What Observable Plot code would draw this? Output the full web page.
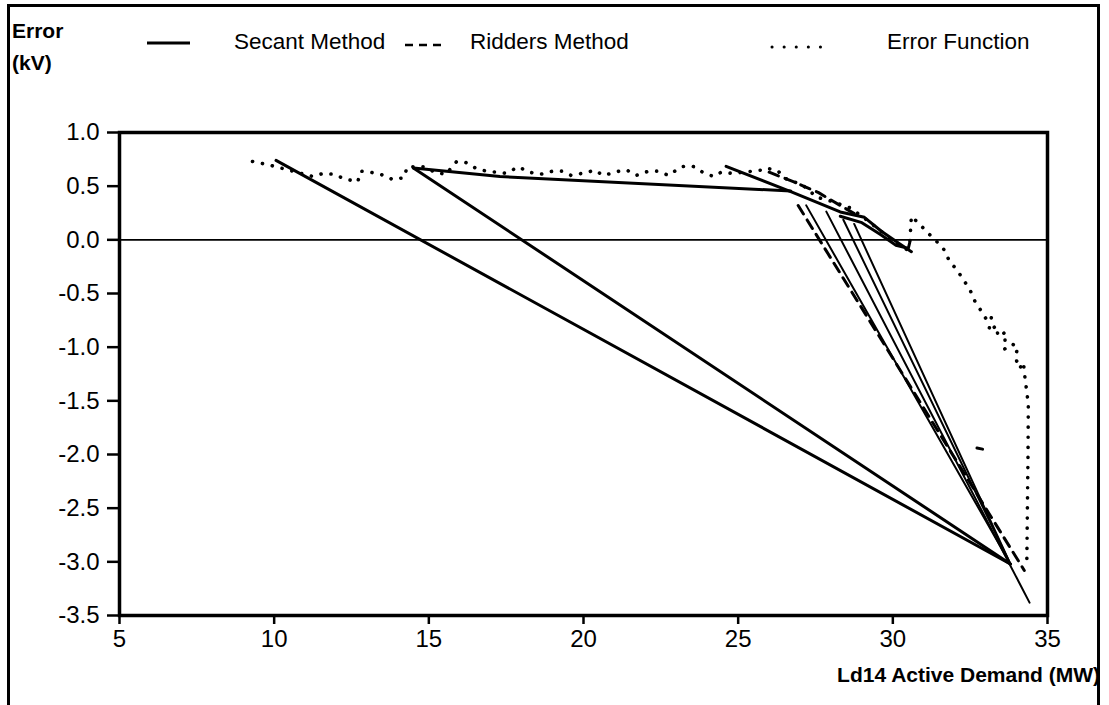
<!DOCTYPE html>
<html>
<head>
<meta charset="utf-8">
<script src="https://cdn.jsdelivr.net/npm/d3@7"></script>
<script src="https://cdn.jsdelivr.net/npm/@observablehq/plot@0.6"></script>
<style>
  html, body { margin: 0; padding: 0; background: #fff; }
  #wrap { position: relative; width: 1109px; height: 705px; overflow: hidden; font-family: "Liberation Sans", Arial, sans-serif; color: #000; }
  #border { position: absolute; left: 7px; top: 4px; width: 1093px; height: 720px; border: 3px solid #000; border-bottom: none; box-sizing: border-box; }
  .t { position: absolute; font-size: 22.5px; white-space: nowrap; line-height: 1; }
  .b { font-weight: bold; font-size: 21px; }
  #plot { position: absolute; left: 0; top: 0; }
</style>
</head>
<body>
<div id="wrap">
  <div id="border"></div>
  <div id="plot"></div>
  <div class="t b" style="left:12px; top:20px;">Error</div>
  <div class="t b" style="left:12px; top:52px;">(kV)</div>
  <svg style="position:absolute; left:0; top:0;" width="1109" height="120">
    <line x1="147" x2="190" y1="43" y2="43" stroke="#000" stroke-width="3"/>
    <line x1="405" x2="447" y1="45" y2="45" stroke="#000" stroke-width="2.5" stroke-dasharray="8 6"/>
    <line x1="772" x2="822" y1="47" y2="47" stroke="#000" stroke-width="3" stroke-linecap="round" stroke-dasharray="0.1 12"/>
  </svg>
  <div class="t" style="left:234px; top:31px;">Secant Method</div>
  <div class="t" style="left:470px; top:31px;">Ridders Method</div>
  <div class="t" style="left:887px; top:31px;">Error Function</div>
  <div class="t b" style="right:9px; top:664px;">Ld14 Active Demand (MW)</div>
</div>
<script>
// ---- data ----
const xTicks = [5, 10, 15, 20, 25, 30, 35];
const yTicks = [1.0, 0.5, 0.0, -0.5, -1.0, -1.5, -2.0, -2.5, -3.0, -3.5];

// Error function (dotted)
const errorFunction = [
  [9.3,0.73],[9.8,0.70],[10.2,0.67],[10.6,0.64],[11.25,0.59],[11.6,0.62],[11.95,0.61],[12.25,0.57],
  [12.7,0.54],[12.8,0.64],[13.1,0.63],[13.45,0.61],[13.85,0.56],[14.2,0.58],[14.3,0.68],[14.85,0.68],
  [15.2,0.63],[15.55,0.61],[15.9,0.73],[16.2,0.72],[16.5,0.67],[16.85,0.64],[17.2,0.63],[17.5,0.62],
  [17.9,0.68],[18.25,0.63],[18.6,0.61],[19.0,0.64],[19.3,0.64],[19.6,0.60],[20.15,0.63],[20.35,0.65],
  [20.65,0.60],[21.15,0.64],[21.4,0.65],[21.7,0.60],[22.1,0.64],[22.4,0.64],[22.75,0.60],[23.15,0.68],
  [23.4,0.69],[23.6,0.68],[23.85,0.63],[24.2,0.59],[24.45,0.63],[24.8,0.62],[25.2,0.63],[25.75,0.65],
  [25.9,0.67],[26.3,0.64],[26.45,0.58],[26.9,0.53],[27.25,0.48],[27.5,0.40],[27.9,0.37],[28.3,0.33],
  [28.6,0.30],[29.0,0.22],[29.4,0.13],[29.8,0.04],[30.15,-0.04],[30.45,-0.09],[30.55,-0.02],[30.6,0.22],
  [30.85,0.15],[31.15,0.06],[31.4,-0.01],[31.65,-0.09],[31.85,-0.21],[32.05,-0.27],[32.3,-0.38],[32.5,-0.47],
  [32.65,-0.57],[32.85,-0.66],[33.0,-0.73],[33.2,-0.70],[33.1,-0.85],[33.35,-0.80],[33.4,-0.90],[33.65,-0.86],
  [33.6,-1.02],[33.85,-0.97],[34.05,-1.00],[33.95,-1.09],[34.1,-1.20],[34.22,-1.14],[34.27,-1.28],[34.38,-1.53],
  [34.37,-2.0],[34.35,-2.5],[34.33,-3.05]
];

// Secant method (solid) segments
const secantA = [[10.06,0.74],[33.8,-3.02]];
const secantB = [[14.5,0.67],[33.8,-3.02]];
const secantC = [[14.5,0.67],[17.3,0.59],[26.7,0.455]];
const secantD = [[24.61,0.685],[26.7,0.45],[28.3,0.26],[29.08,0.21],[29.63,0.08],[30.18,-0.03],[30.6,-0.11]];
const secantE = [[28.3,0.22],[29.0,0.16],[29.6,0.05],[30.1,-0.05],[30.5,-0.08],[30.55,-0.02]];
const secantF = [[27.2,0.321],[33.8,-3.02]];
const secantG = [[27.85,0.263],[34.42,-3.38]];
const secantH = [[28.4,0.187],[33.8,-3.02]];
const secantI = [[28.75,0.148],[33.8,-3.02]];

// Ridders method (dashed) segments
const riddersA = [[26.94,0.32],[34.25,-3.08]];
const riddersB = [[26.0,0.63],[26.8,0.54],[27.6,0.44],[28.3,0.32],[28.9,0.22]];
const riddersC = [[32.72,-1.94],[32.9,-1.95]];

// ---- build tables ----
const toRows = (arr, seg) => arr.map(([x, y]) => ({x, y, seg}));
const errRows = toRows(errorFunction, "err");
const secThick = [
  ...toRows(secantA, "A"), ...toRows(secantB, "B"), ...toRows(secantC, "C"),
  ...toRows(secantD, "D"), ...toRows(secantE, "E")
];
const secThin = [
  ...toRows(secantF, "F"), ...toRows(secantG, "G"), ...toRows(secantH, "H"), ...toRows(secantI, "I")
];
const ridRows = [...toRows(riddersA, "RA"), ...toRows(riddersB, "RB"), ...toRows(riddersC, "RC")];

const chart = Plot.plot({
  width: 1109,
  height: 705,
  marginTop: 132,
  marginLeft: 119,
  marginRight: 62,
  marginBottom: 90,
  style: { fontFamily: "'Liberation Sans', Arial, sans-serif", fontSize: "24px", color: "#000", background: "transparent" },
  x: { domain: [5, 35] },
  y: { domain: [-3.5, 1] },
  marks: [
    Plot.axisX({ ticks: xTicks, tickSize: 9, tickPadding: 5, strokeWidth: 2.5, label: null, tickFormat: d => String(d) }),
    Plot.axisY({ ticks: yTicks, tickSize: 12, tickPadding: 8, strokeWidth: 2.5, label: null, tickFormat: d => d.toFixed(1) }),
    Plot.ruleY([0], { stroke: "#000", strokeWidth: 1.6 }),
    Plot.line(errRows, { x: "x", y: "y", stroke: "#000", strokeWidth: 3.6, strokeLinecap: "round", strokeDasharray: "0.1 10" }),
    Plot.line(ridRows, { x: "x", y: "y", z: "seg", stroke: "#000", strokeWidth: 3, strokeDasharray: "10 7" }),
    Plot.line(secThick, { x: "x", y: "y", z: "seg", stroke: "#000", strokeWidth: 3, curve: "linear" }),
    Plot.line(secThin, { x: "x", y: "y", z: "seg", stroke: "#000", strokeWidth: 2, curve: "linear" }),
    Plot.frame({ stroke: "#000", strokeWidth: 3.5 })
  ]
});
document.getElementById("plot").appendChild(chart);
</script>
</body>
</html>
